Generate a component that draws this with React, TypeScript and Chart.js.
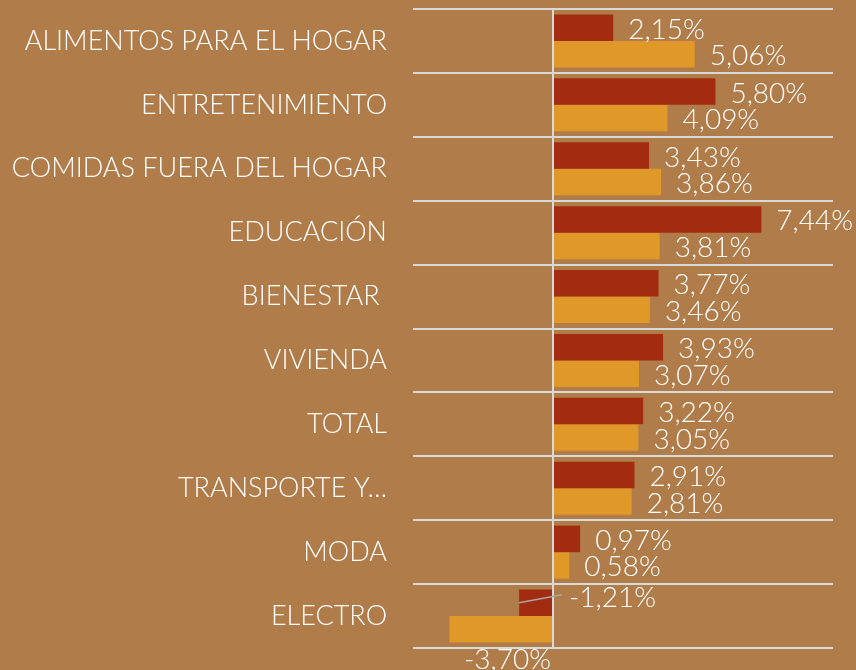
import React, { useEffect, useRef } from "react";
import { Chart, registerables } from "chart.js";

Chart.register(...registerables);

const categories = [
  "ALIMENTOS PARA EL HOGAR",
  "ENTRETENIMIENTO",
  "COMIDAS FUERA DEL HOGAR",
  "EDUCACIÓN",
  "BIENESTAR ",
  "VIVIENDA",
  "TOTAL",
  "TRANSPORTE Y…",
  "MODA",
  "ELECTRO",
];
const seriesA = [2.15, 5.8, 3.43, 7.44, 3.77, 3.93, 3.22, 2.91, 0.97, -1.21];
const seriesB = [5.06, 4.09, 3.86, 3.81, 3.46, 3.07, 3.05, 2.81, 0.58, -3.7];

const BG = "#B07C4A";
const RED = "#A32C10";
const ORANGE = "#E09828";
const GRID = "#D9D9D9";
const FONT = "Lato, 'Open Sans', sans-serif";

const fmt = (v: number) => v.toFixed(2).replace(".", ",") + "%";

const labelPlugin = {
  id: "valueLabels",
  afterDatasetsDraw(chart: any) {
    const ctx = chart.ctx;
    const xScale = chart.scales.x;
    const zero = xScale.getPixelForValue(0);
    ctx.save();
    ctx.font = `300 28px ${FONT}`;
    ctx.fillStyle = "#FFFFFF";
    ctx.textBaseline = "middle";
    chart.data.datasets.forEach((ds: any, di: number) => {
      const meta = chart.getDatasetMeta(di);
      meta.data.forEach((bar: any, i: number) => {
        const v = ds.data[i];
        const text = fmt(v);
        if (v >= 0) {
          ctx.textAlign = "left";
          ctx.fillText(text, bar.x + 15, bar.y + 2);
        } else if (di === 0) {
          const ly = bar.y - 5;
          ctx.strokeStyle = "#A6A6A6";
          ctx.lineWidth = 1.5;
          ctx.beginPath();
          ctx.moveTo(bar.x, bar.y);
          ctx.lineTo(zero + 9, bar.y - 8);
          ctx.stroke();
          ctx.textAlign = "left";
          ctx.fillText(text, zero + 16, ly);
        } else {
          ctx.textAlign = "right";
          ctx.fillText(text, zero - 2, bar.y + 31);
        }
      });
    });
    ctx.restore();
  },
};

export default function App() {
  const ref = useRef<HTMLCanvasElement | null>(null);
  useEffect(() => {
    if (!ref.current) return;
    const chart = new Chart(ref.current, {
      type: "bar",
      data: {
        labels: categories,
        datasets: [
          {
            data: seriesA,
            backgroundColor: RED,
            barPercentage: 1,
            categoryPercentage: 0.83,
          },
          {
            data: seriesB,
            backgroundColor: ORANGE,
            barPercentage: 1,
            categoryPercentage: 0.83,
          },
        ],
      },
      options: {
        indexAxis: "y",
        responsive: false,
        animation: false,
        layout: { padding: { left: 0, right: 23, top: 9, bottom: 22 } },
        plugins: {
          legend: { display: false },
          tooltip: { enabled: false },
        },
        scales: {
          x: {
            min: -5,
            max: 10,
            ticks: { display: false },
            border: { display: false },
            grid: {
              drawTicks: false,
              lineWidth: 2,
              color: (c: any) => (c.tick && c.tick.value === 0 ? GRID : "rgba(0,0,0,0)"),
            },
            afterFit: (s: any) => {
              s.height = 0;
              s.paddingLeft = 0;
              s.paddingRight = 0;
              s.paddingTop = 0;
              s.paddingBottom = 0;
            },
          },
          y: {
            border: { display: false },
            grid: { color: GRID, lineWidth: 2, drawTicks: false, offset: true },
            ticks: {
              color: "#FFFFFF",
              padding: 26,
              font: { family: FONT, size: 27, weight: "300" },
            },
            afterFit: (s: any) => {
              s.width = 413;
              s.paddingTop = 0;
              s.paddingBottom = 0;
              s.paddingLeft = 0;
              s.paddingRight = 0;
            },
          },
        },
      },
      plugins: [labelPlugin],
    });
    return () => chart.destroy();
  }, []);
  return (
    <div style={{ position: "fixed", left: 0, top: 0, width: 856, height: 670, background: BG }}>
      <canvas ref={ref} width={856} height={670} style={{ display: "block" }} />
    </div>
  );
}
